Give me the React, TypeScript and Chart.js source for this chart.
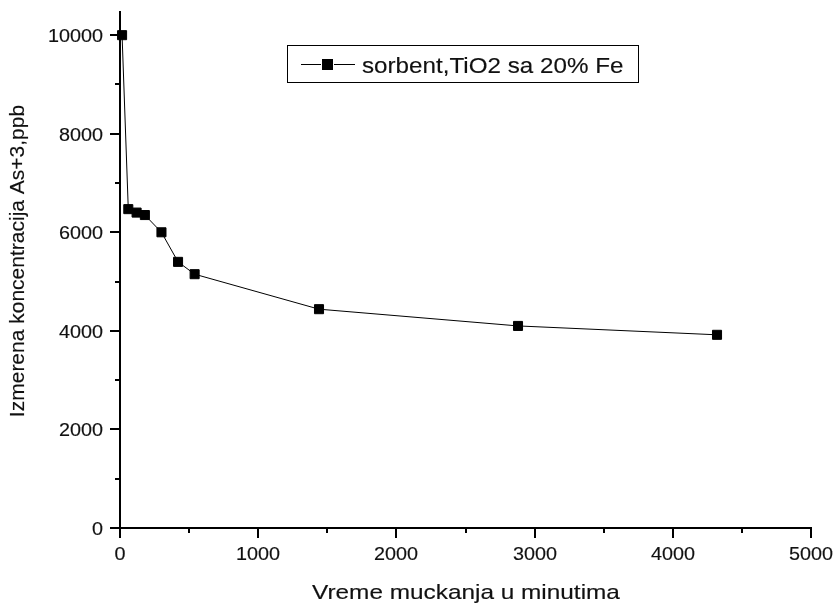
import { useEffect, useRef } from "react";
import { Chart, registerables } from "chart.js";

Chart.register(...registerables);

// Measured As(III) concentration over shaking time
const seriesLabel = "sorbent,TiO2 sa 20% Fe";
const timeMinutes = [15, 60, 120, 180, 300, 420, 540, 1440, 2880, 4320];
const concentrationPpb = [10000, 6470, 6400, 6350, 6000, 5400, 5150, 4440, 4100, 3920];

// Axis ticks
const xMajorTicks = [0, 1000, 2000, 3000, 4000, 5000];
const xMinorTicks = [500, 1500, 2500, 3500, 4500];
const yMajorTicks = [0, 2000, 4000, 6000, 8000, 10000];
const yMinorTicks = [1000, 3000, 5000, 7000, 9000];

const xTitle = "Vreme muckanja u minutima";
const yTitle = "Izmerena koncentracija As+3,ppb";

const X_MIN = 0;
const X_MAX = 5000;
const Y_MIN = 0;
const Y_MAX = 10470;

const FONT = '"Liberation Sans", Arial, sans-serif';

// Text drawn with a slight horizontal stretch (wide Arial look)
function stretchedText(
  ctx: CanvasRenderingContext2D,
  text: string,
  x: number,
  y: number,
  size: number,
  sx: number,
  align: CanvasTextAlign
) {
  ctx.save();
  ctx.translate(x, y);
  ctx.scale(sx, 1);
  ctx.font = `${size}px ${FONT}`;
  ctx.textAlign = align;
  ctx.textBaseline = "alphabetic";
  ctx.fillStyle = "#111";
  ctx.strokeStyle = "#111";
  ctx.lineWidth = 0.15;
  ctx.fillText(text, 0, 0);
  ctx.strokeText(text, 0, 0);
  ctx.restore();
}

// Outward major/minor ticks, tick labels, axis titles and the boxed legend
const axisDecor = {
  id: "axisDecor",
  afterDraw(chart: any) {
    const { ctx, chartArea, scales } = chart;
    const xs = scales.x;
    const ys = scales.y;
    const left = chartArea.left;
    const bottom = chartArea.bottom;

    ctx.save();
    ctx.strokeStyle = "#000";
    ctx.lineWidth = 2;
    ctx.lineCap = "butt";
    const seg = (x1: number, y1: number, x2: number, y2: number) => {
      ctx.beginPath();
      ctx.moveTo(x1, y1);
      ctx.lineTo(x2, y2);
      ctx.stroke();
    };

    yMajorTicks.forEach((v) => {
      const y = Math.round(ys.getPixelForValue(v));
      seg(left - 10, y, left, y);
      stretchedText(ctx, String(v), 103, y + 6.5, 18, 1.1, "right");
    });
    yMinorTicks.forEach((v) => {
      const y = Math.round(ys.getPixelForValue(v));
      seg(left - 5, y, left, y);
    });
    xMajorTicks.forEach((v) => {
      const x = Math.round(xs.getPixelForValue(v));
      seg(x, bottom, x, bottom + 10);
      stretchedText(ctx, String(v), x, 560, 18, 1.1, "center");
    });
    xMinorTicks.forEach((v) => {
      const x = Math.round(xs.getPixelForValue(v));
      seg(x, bottom, x, bottom + 5);
    });

    // Axis titles
    stretchedText(ctx, xTitle, 466, 599, 21, 1.16, "center");
    ctx.save();
    ctx.translate(24, 261);
    ctx.rotate(-Math.PI / 2);
    stretchedText(ctx, yTitle, 0, 0, 21, 1.0, "center");
    ctx.restore();

    // Legend box
    ctx.lineWidth = 1;
    ctx.strokeStyle = "#000";
    ctx.strokeRect(287.5, 45.5, 351, 37);
    ctx.beginPath();
    ctx.moveTo(301, 64.5);
    ctx.lineTo(321, 64.5);
    ctx.moveTo(334, 64.5);
    ctx.lineTo(355, 64.5);
    ctx.stroke();
    ctx.fillStyle = "#000";
    ctx.fillRect(322, 59, 11, 11);
    stretchedText(ctx, chart.data.datasets[0].label, 362, 72.5, 22, 1.1, "left");

    ctx.restore();
  },
};

export default function App() {
  const canvasRef = useRef<HTMLCanvasElement | null>(null);

  useEffect(() => {
    document.body.style.margin = "0";
    const canvas = canvasRef.current;
    if (!canvas) return;

    const chart = new Chart(canvas, {
      type: "line",
      data: {
        datasets: [
          {
            label: seriesLabel,
            data: timeMinutes.map((t, i) => ({ x: t, y: concentrationPpb[i] })),
            borderColor: "#000",
            borderWidth: 1,
            backgroundColor: "#000",
            pointStyle: "rect",
            pointRadius: 6.4,
            pointBorderWidth: 1,
            pointBorderColor: "#000",
            pointBackgroundColor: "#000",
            tension: 0,
            clip: false,
          },
        ],
      },
      options: {
        responsive: false,
        animation: false,
        events: [],
        layout: { padding: { top: 12, right: 27, left: 0, bottom: 0 } },
        plugins: {
          legend: { display: false },
          tooltip: { enabled: false },
          title: { display: false },
        },
        scales: {
          x: {
            type: "linear",
            min: X_MIN,
            max: X_MAX,
            grid: { display: false },
            border: { display: true, color: "#000", width: 2 },
            ticks: { display: false },
            afterFit: (scale: any) => {
              scale.height = 77;
            },
          },
          y: {
            type: "linear",
            min: Y_MIN,
            max: Y_MAX,
            grid: { display: false },
            border: { display: true, color: "#000", width: 2 },
            ticks: { display: false },
            afterFit: (scale: any) => {
              scale.width = 120;
            },
          },
        },
      },
      plugins: [axisDecor],
    });

    return () => chart.destroy();
  }, []);

  return (
    <div style={{ width: 838, height: 605, background: "#fff" }}>
      <canvas ref={canvasRef} width={838} height={605} />
    </div>
  );
}
